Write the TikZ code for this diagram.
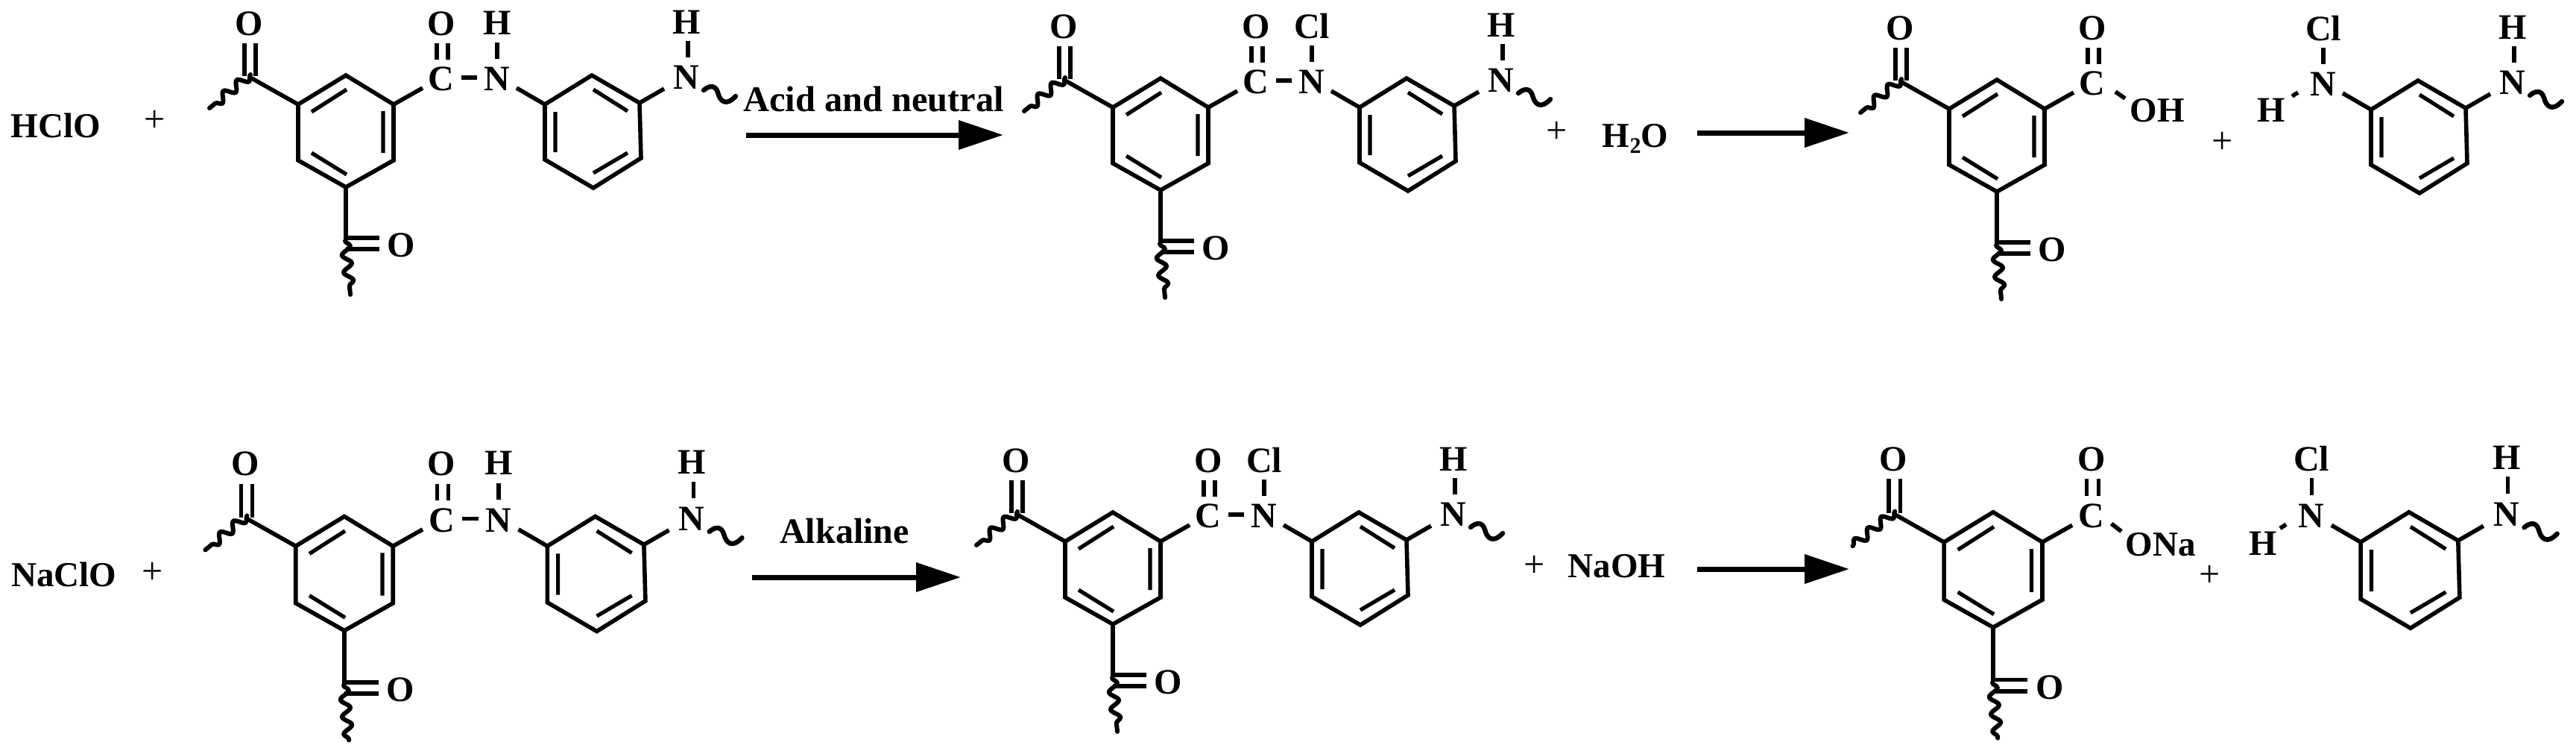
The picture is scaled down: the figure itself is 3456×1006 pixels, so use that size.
\documentclass[tikz,border=0pt]{standalone}
\usepackage{fontspec}
\setmainfont{Liberation Serif}
\usetikzlibrary{arrows.meta,decorations.pathmorphing}
\tikzset{
  bond/.style={line width=1.4pt,line cap=butt,line join=miter},
  thinbond/.style={line width=1.3pt},
  wave/.style={line width=1.5pt,line cap=round,decorate,decoration={snake,segment length=5.8pt,amplitude=1.5pt}},
  swave/.style={line width=1.6pt,line cap=round},
  atom/.style={inner sep=0pt,font=\fontsize{12}{14}\selectfont\bfseries},
  label/.style={inner sep=0pt,font=\fontsize{11.75}{14}\selectfont\bfseries},
  plus/.style={inner sep=0pt,font=\fontsize{12.5}{14}\selectfont},
  rarrow/.style={line width=1.75pt,-{Triangle[length=15pt,width=9.5pt]}},
}
% ring with substituents at upper left and bottom, centred on the scope origin
\newcommand{\corering}{%
  \draw[bond] (0,-75)--(-64,-36)--(-64,39)--(0,75)--(64,39)--(64,-36)--cycle;
  \draw[bond,thinbond] (-46,-26)--(1,-56) (50,-27)--(50,29) (-46,29)--(1,58);
  \draw[bond] (-64,-36)--(-128,-72);
  \draw[bond,thinbond] (-136,-118)--(-136,-74) (-121,-118)--(-121,-74);
  \node[atom] (oa) at (-130,-144) {O};
  \draw[wave] (-128,-76)--(-183,-31);
  \draw[thinbond] (0,75)--(0,146);
  \draw[bond] (0,143)--(45,143) (0,158)--(45,158);
  \node[atom] (ob) at (74,153) {O};
  \draw[wave] (-1,147)--(6,219);
  \draw[bond] (64,-36)--(103,-58);
  \draw[thinbond] (122,-118)--(122,-96) (137,-118)--(137,-96);
  \node[atom] (cc) at (128,-70) {C};
  \node[atom] (oc) at (128,-144) {O};
}
% second ring with its two N groups; first argument is the atom above the left N
\newcommand{\aminering}[1]{%
  \node[atom] (na) at (203,-70) {N};
  \node[atom] (xa) at (203,-145) {#1};
  \draw[thinbond] (203,-119)--(203,-97);
  \draw[bond] (229,-58)--(267,-36);
  \draw[bond] (330,-75)--(267,-36)--(267,38)--(332,76)--(396,36)--(394,-38)--cycle;
  \draw[bond,thinbond] (281,-26)--(281,28) (332,-56)--(378,-27) (378,29)--(332,56);
  \draw[bond] (394,-38)--(427,-57);
  \node[atom] (nb) at (457,-72) {N};
  \node[atom] (hb) at (457,-146) {H};
  \draw[thinbond] (459,-121)--(459,-99);
  \draw[swave] (480,-55) .. controls (488,-62) and (496,-62) .. (499,-52)
               .. controls (502,-40) and (510,-33) .. (523,-47);
}
\newcommand{\amidedash}{\draw[bond] (155,-72)--(176,-72);}
\begin{document}
\begin{tikzpicture}[x=0.25pt,y=-0.25pt]
\useasboundingbox (0,0) rectangle (3456,1006);
\fill[white] (0,0) rectangle (3456,1006);

% ---- top row ----
\node[label] (hclo) at (75,168) {HClO};
\node[plus] (p1) at (208,162) {+};
\begin{scope}[shift={(464,176)},name prefix=m1-]
  \corering \amidedash \aminering{H}
\end{scope}
\coordinate (a1s) at (1001,181);
\coordinate (a1e) at (1346,181);
\draw[rarrow] (a1s)--(a1e);
\node[inner sep=0pt,font=\fontsize{12.1}{14}\selectfont\bfseries] (acid) at (1172,133) {Acid and neutral};
\begin{scope}[shift={(1557,180)},name prefix=m2-]
  \corering \amidedash \aminering{Cl}
\end{scope}
\node[plus] (p2) at (2089,177) {+};
\node[label] (water) at (2194,186) {H\raisebox{-.35ex}{\fontsize{7.5}{8}\selectfont 2}O};
\coordinate (a2s) at (2277,178);
\coordinate (a2e) at (2481,178);
\draw[rarrow] (a2s)--(a2e);
\begin{scope}[shift={(2679,182)},name prefix=m3-]
  \corering
  \draw[bond] (159,-59)--(172,-50);
  \node[label] (oh) at (215,-34) {OH};
\end{scope}
\node[plus] (p3) at (2982,191) {+};
\begin{scope}[shift={(2914,183)},name prefix=f3-]
  \aminering{Cl}
  \node[atom] (hl) at (133,-35) {H};
  \draw[bond] (161,-54)--(169,-59);
\end{scope}

% ---- bottom row ----
\node[label] (naclo) at (86,770) {NaClO};
\node[plus] (p4) at (205,768) {+};
\begin{scope}[shift={(462,769)},scale=1.02,name prefix=m4-]
  \corering \amidedash \aminering{H}
\end{scope}
\coordinate (a3s) at (1009,774);
\coordinate (a3e) at (1289,774);
\draw[rarrow] (a3s)--(a3e);
\node[inner sep=0pt,font=\fontsize{12}{14}\selectfont\bfseries] (alk) at (1133,712) {Alkaline};
\begin{scope}[shift={(1493,762)},name prefix=m5-]
  \corering \amidedash \aminering{Cl}
\end{scope}
\node[plus] (p5) at (2059,759) {+};
\node[label] (naoh) at (2169,759) {NaOH};
\coordinate (a4s) at (2277,763);
\coordinate (a4e) at (2481,763);
\draw[rarrow] (a4s)--(a4e);
\begin{scope}[shift={(2674,764)},scale=1.03,name prefix=m6-]
  \corering
  \draw[bond] (154,-60)--(167,-50);
  \node[label] (ona) at (218,-33) {ONa};
\end{scope}
\node[plus] (p6) at (2965,772) {+};
\begin{scope}[shift={(2892,764)},scale=1.03,name prefix=f6-]
  \aminering{Cl}
  \node[atom] (hl) at (140,-34) {H};
  \draw[bond] (162,-54)--(170,-59);
\end{scope}
\end{tikzpicture}
\end{document}
